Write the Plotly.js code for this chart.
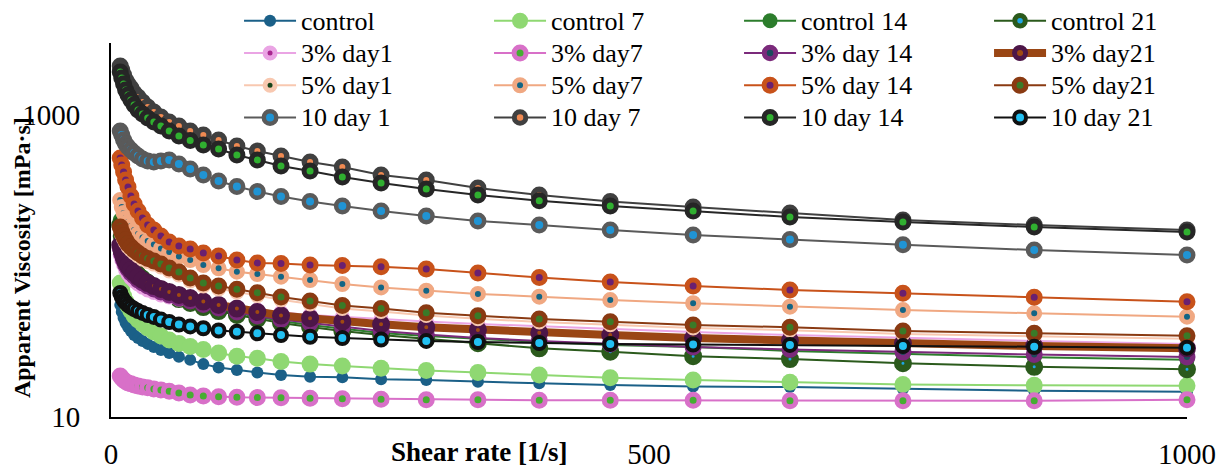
<!DOCTYPE html>
<html><head><meta charset="utf-8">
<script src="https://cdn.plot.ly/plotly-3.0.1.min.js"></script>
<style>html,body{margin:0;padding:0;background:#fff;} #chart{width:1228px;height:469px;}</style>
</head><body><div id="chart"></div>
<script>
// Shear rate [1/s]
const shearRate = [8.58,10,11.7,13.6,15.8,18.5,21.5,25.1,29.3,34.1,39.8,46.4,54.1,63.1,73.6,85.8,100,117,136,158,185,215,251,293,341,398,464,541,631,736,858,1000];

const seriesNames = ['control','control 7','control 14','control 21',
  '3% day1','3% day7','3% day 14','3% day21',
  '5% day1','5% day7','5% day 14','5% day21',
  '10 day 1','10 day 7','10 day 14','10 day 21'];

// Apparent viscosity [mPa·s]
const control   = [55.2,49.6,45.3,42.0,39.5,37.1,34.9,33.4,31.9,30.5,29.1,27.8,26.5,25.1,23.9,22.4,21.3,20.5,19.7,19.0,18.5,18.3,17.8,17.6,17.1,16.7,16.3,15.9,15.8,15.3,14.9,14.7];
const control7  = [77.1,69.4,63.3,58.6,54.4,50.3,46.7,43.9,41.3,38.9,36.6,34.4,32.4,30.7,29.3,28.0,26.5,25.3,24.5,23.3,22.4,21.8,21.0,20.3,19.7,19.0,18.2,17.6,17.0,16.4,16.2,16.1];
const control14 = [201.7,168.0,144.2,127.6,114.7,104.7,97.0,89.9,84.6,79.6,74.8,70.5,66.3,62.4,58.6,55.2,51.9,48.9,46.0,43.2,40.7,38.3,36.0,34.4,32.9,31.4,30.0,29.1,27.4,26.1,24.9,23.9];
const control21 = [186.9,158.1,137.8,121.9,111.3,101.5,94.1,87.2,82.0,77.1,72.5,68.3,64.3,60.4,56.9,53.5,50.3,47.4,44.6,42.0,39.5,37.1,34.9,32.9,30.8,28.5,27.1,25.3,24.2,22.7,21.5,20.7];
const p3day1    = [118.3,109.6,101.5,94.1,88.5,83.3,79.6,76.0,72.5,69.4,66.8,64.3,62.4,60.4,58.6,56.9,55.2,53.1,51.1,49.2,47.4,46.0,44.6,42.9,41.3,39.8,38.3,36.6,34.9,33.4,31.9,30.5];
const p3day7    = [18.7,18.1,17.6,17.2,16.8,16.6,16.3,16.05,15.8,15.6,15.3,15.1,14.8,14.4,14.0,13.8,13.6,13.5,13.45,13.4,13.3,13.2,13.1,13.0,13.0,12.9,12.9,12.9,12.8,12.8,12.8,13.0];
const p3day14   = [131.6,120.1,109.6,101.5,95.6,89.9,85.9,80.8,77.1,73.7,70.5,67.3,64.3,61.3,58.6,55.6,52.7,49.6,46.7,44.2,42.0,39.5,37.1,35.2,33.4,31.9,30.5,29.1,28.0,26.9,25.9,25.0];
const p3day21   = [137.8,125.7,114.7,106.3,100.0,94.1,89.9,84.6,80.8,77.1,73.7,70.5,67.3,64.3,61.3,58.1,55.2,52.3,49.6,47.0,45.1,42.8,41.1,39.3,37.7,36.1,34.9,33.3,32.1,30.8,29.5,28.5];
const p5day1    = [173,161,151,142,134,128,122,116.5,111,107,103,98.5,92.7,87.3,79.6,73.7,70.5,67,63.7,59.7,56,52.4,50,47,44.8,42.6,40.9,38.9,37.6,35.5,34.2,33];
const p5day7    = [273.6,245.9,224.4,207.9,195.6,184.1,173.2,163.0,154.5,146.4,138.9,130.6,123.8,115.6,109.6,101.5,96.6,91.7,88.5,85.0,80.8,76.0,72.2,68.7,65.3,62.7,59.5,56.7,53.8,51.1,48.6,46.2];
const p5day14   = [519.1,466.6,419.4,371.2,333.7,290.8,257.4,231.3,207.9,186.9,173.2,158.1,144.2,135.7,129.6,121.9,116.5,109.6,104.7,103.9,101.5,100.7,98.9,95.6,89.9,83.9,78.4,73.7,69.4,66.0,62.1,58.0];
const p5day21   = [181.3,168.0,158.1,148.7,139.9,133.7,127.6,121.9,116.5,112.2,107.9,103.1,97.0,91.3,83.3,77.1,73.7,70.1,66.6,62.4,58.6,54.8,52.3,49.1,46.9,44.6,42.8,40.7,39.3,37.1,35.8,34.5];
const p10day1   = [783.5,737.2,683.1,642.7,614,586.5,560,535.3,511.4,496,488.4,496,503.6,473.8,439.1,400.6,365.6,336.2,311.4,288.6,267.4,249.7,231.3,214.4,198.6,186.9,173.2,160.5,149.8,138.4,127.6,118.3];
const p10day7   = [2110,1986,1840,1705,1604,1510,1399,1316,1219,1130,1047,970,899,845.6,783.5,737,683,623,577.6,535,488,452.6,400.6,371.2,328.5,295.3,267.4,245.9,224.4,201.7,186.9,173.2];
const p10day14  = [1926,1757,1604,1464,1357,1257,1165,1079,1015,955,899,845.6,783.5,726,677.9,633,595.5,543.5,503.6,459.5,425.8,388.6,354.5,323.6,295.3,270.7,249.7,231.3,211.2,195.6,181.3,168];
const p10day21  = [66.3,62.4,59.5,57.3,55.2,53.5,51.9,50.3,48.9,47.4,46.0,44.2,42.6,41.0,39.8,38.7,37.4,36.7,35.8,34.9,34.0,33.3,32.6,31.9,31.4,30.9,30.5,30.2,30.0,29.5,29.2,28.8];

const seriesValues = [control,control7,control14,control21,p3day1,p3day7,p3day14,p3day21,p5day1,p5day7,p5day14,p5day21,p10day1,p10day7,p10day14,p10day21];

const xTickVals = [0,500,1000];
const yTickVals = [10,1000];
const yTickText = ['10','1000'];

// styles: [line color, line width, marker fill, marker border, marker size, border width]
const styles = [
  ['#1b6088',2,'#1b6088','#1b6088',12,0],
  ['#8fd872',2,'#8fd872','#8fd872',17,0],
  ['#2c7d2c',2,'#2c7d2c','#2c7d2c',15,0],
  ['#2b5a1c',2,'#1ea6e6','#2b5a1c',10.5,7.5],
  ['#eaa4e4',2,'#a8268f','#eaa4e4',10,5],
  ['#d870c8',2,'#46ad32','#d870c8',12,5],
  ['#7b2a7b',2,'#1b4a5c','#7b2a7b',11.5,5.5],
  ['#9a4614',8,'#a04a12','#4d1648',11,7],
  ['#f8c8b0',2,'#17431a','#f8c8b0',10,5],
  ['#f0a882',2,'#136585','#f0a882',11,5],
  ['#c8521a',2,'#6a2070','#c8521a',12,5],
  ['#8a3a12',2,'#3a7a28','#8a3a12',12,5],
  ['#5a5a5a',2,'#2094d4','#5a5a5a',12.5,4.5],
  ['#404040',2,'#f08a52','#404040',11.5,5.5],
  ['#262626',2,'#30b030','#262626',12,5],
  ['#101010',2,'#22c0f2','#101010',12,4]
];

const FONT = 'Liberation Serif';

const traces = seriesNames.map((name, i) => ({
  type: 'scatter',
  mode: 'lines+markers',
  x: shearRate,
  y: seriesValues[i],
  name: '<span style="font-size:26px">' + name + '</span>',
  cliponaxis: false,
  line: {color: styles[i][0], width: styles[i][1]},
  marker: {symbol: 'circle', color: styles[i][2], size: styles[i][4],
           line: {color: styles[i][3], width: styles[i][5]}}
}));

const layout = {
  width: 1228, height: 469,
  margin: {l: 111, r: 41, t: 43, b: 52, autoexpand: false},
  paper_bgcolor: '#ffffff', plot_bgcolor: '#ffffff',
  font: {family: FONT, color: '#000', size: 29},
  showlegend: true,
  legend: {orientation: 'h', x: 0.119, xanchor: 'left', y: 1.116, yanchor: 'top',
           bgcolor: 'rgba(0,0,0,0)', font: {family: FONT, size: 22.5, color: '#000'},
           entrywidth: 183, entrywidthmode: 'pixels', itemwidth: 52, traceorder: 'normal'},
  xaxis: {range: [0, 1000], tickmode: 'array', tickvals: xTickVals, showgrid: false, zeroline: false,
          showline: true, linecolor: '#000', linewidth: 2, ticks: '', ticklabelstandoff: 10,
          tickfont: {family: FONT, size: 29, color: '#000'}},
  yaxis: {type: 'log', range: [1, Math.log10(3000)], tickmode: 'array', tickvals: yTickVals, ticktext: yTickText,
          showgrid: false, zeroline: false, showline: true, linecolor: '#000', linewidth: 2, ticks: '',
          ticklabelstandoff: 23, tickfont: {family: FONT, size: 29, color: '#000'}},
  annotations: [
    {text: '<b>Shear rate [1/s]</b>', xref: 'paper', yref: 'paper', x: 0.342, y: -0.0936,
     xanchor: 'center', yanchor: 'middle', showarrow: false, font: {family: FONT, size: 27, color: '#000'}},
    {text: '<b>Apparent Viscosity [mPa·s]</b>', xref: 'paper', yref: 'paper', x: -0.0827, y: 0.425,
     xanchor: 'center', yanchor: 'middle', textangle: -90, showarrow: false, font: {family: FONT, size: 24, color: '#000'}}
  ]
};

Plotly.newPlot('chart', traces, layout, {displayModeBar: false, staticPlot: true});
</script>
</body></html>
